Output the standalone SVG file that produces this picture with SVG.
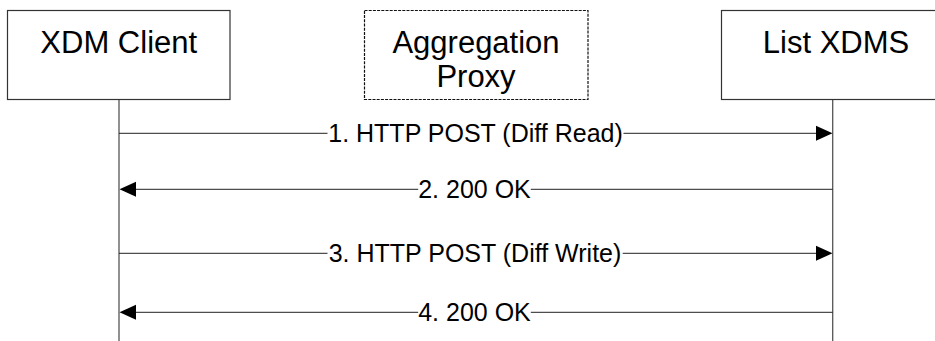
<svg xmlns="http://www.w3.org/2000/svg" width="935" height="341" viewBox="0 0 935 341">
<defs>
<style>
.box{fill:#fff;stroke:#333;stroke-width:1.2}
.dash{stroke:#111;stroke-dasharray:3,1.2}
.t{font-family:"Liberation Sans",Arial,sans-serif;font-size:31px;fill:#000;text-anchor:middle}
.lbl{font-family:"Liberation Sans",Arial,sans-serif;font-size:25px;fill:#000;text-anchor:middle}
.life{stroke:#555;stroke-width:1.3;fill:none}
.msg{stroke:#222;stroke-width:1;fill:none}
.head{fill:#000}
</style>
</defs>
<rect width="935" height="341" fill="#fff"/>
<g id="lifelines">
<line class="life" x1="119" y1="99.5" x2="119" y2="341"/>
<line class="life" x1="832.7" y1="99.5" x2="832.7" y2="341"/>
</g>
<g id="node-xdm-client">
<rect class="box" x="7.5" y="10.5" width="222.5" height="89"/>
<text class="t" x="118.75" y="52.5">XDM Client</text>
</g>
<g id="node-aggregation-proxy">
<rect class="box dash" x="364.5" y="10.5" width="223.5" height="89"/>
<text class="t" x="476" y="52.5">Aggregation</text>
<text class="t" x="476" y="87">Proxy</text>
</g>
<g id="node-list-xdms">
<rect class="box" x="721.5" y="10.5" width="223" height="89"/>
<text class="t" x="836" y="52.5">List XDMS</text>
</g>
<g id="connectors">
<g id="msg1">
<line class="msg" x1="119" y1="133.3" x2="327.5" y2="133.3"/>
<line class="msg" x1="623.5" y1="133.3" x2="817" y2="133.3"/>
<polygon class="head" points="816,125.8 832.5,133.3 816,140.8"/>
<text class="lbl" x="475.5" y="142">1. HTTP POST (Diff Read)</text>
</g>
<g id="msg2">
<line class="msg" x1="832.7" y1="189.3" x2="530.8" y2="189.3"/>
<line class="msg" x1="418.2" y1="189.3" x2="135" y2="189.3"/>
<polygon class="head" points="136,181.8 119.5,189.3 136,196.8"/>
<text class="lbl" x="474.5" y="198">2. 200 OK</text>
</g>
<g id="msg3">
<line class="msg" x1="119" y1="253.3" x2="327.5" y2="253.3"/>
<line class="msg" x1="622.7" y1="253.3" x2="817" y2="253.3"/>
<polygon class="head" points="816,245.8 832.5,253.3 816,260.8"/>
<text class="lbl" x="475" y="262">3. HTTP POST (Diff Write)</text>
</g>
<g id="msg4">
<line class="msg" x1="832.7" y1="312.3" x2="530.8" y2="312.3"/>
<line class="msg" x1="418.2" y1="312.3" x2="135" y2="312.3"/>
<polygon class="head" points="136,304.8 119.5,312.3 136,319.8"/>
<text class="lbl" x="474.5" y="321">4. 200 OK</text>
</g>
</g>
</svg>
